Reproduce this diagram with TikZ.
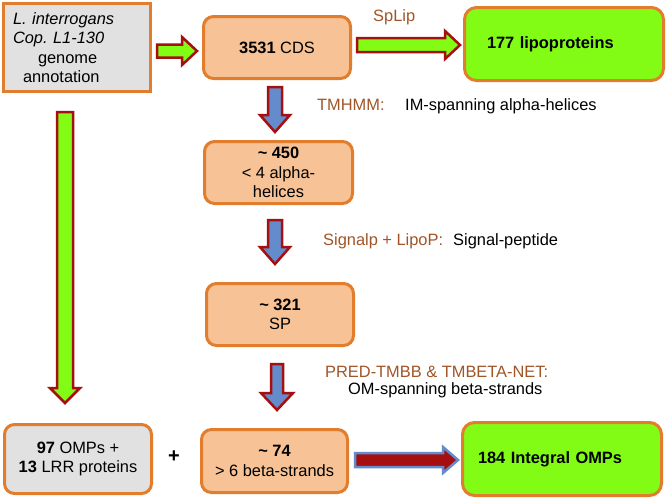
\documentclass[tikz,border=0pt]{standalone}
\usepackage{fontspec}
\setmainfont{Liberation Sans}
\usetikzlibrary{calc}
\frenchspacing
\definecolor{boxorange}{RGB}{226,125,45}
\definecolor{peach}{RGB}{246,194,150}
\definecolor{boxgray}{RGB}{225,225,225}
\definecolor{limefill}{RGB}{130,252,20}
\definecolor{arrowred}{RGB}{165,15,15}
\definecolor{arrowblue}{RGB}{100,140,205}
\definecolor{brownlbl}{RGB}{160,85,40}
\newcommand\myharrow[6]{%
  \draw[#1] let \p1=(#2), \p2=(#3) in
    (\x1,\y1+#4) -- (\x2-#6,\y1+#4) -- (\x2-#6,\y1+#5) -- (\x2,\y1)
    -- (\x2-#6,\y1-#5) -- (\x2-#6,\y1-#4) -- (\x1,\y1-#4) -- cycle;}
\newcommand\myvarrow[6]{%
  \draw[#1] let \p1=(#2), \p2=(#3) in
    (\x1+#4,\y1) -- (\x1+#4,\y2+#6) -- (\x1+#5,\y2+#6) -- (\x1,\y2)
    -- (\x1-#5,\y2+#6) -- (\x1-#4,\y2+#6) -- (\x1-#4,\y1) -- cycle;}
\begin{document}
\begin{tikzpicture}[x=1pt,y=-1pt,
  txt/.style={font=\fontsize{16.4}{19.5}\selectfont},
  flowbox/.style={txt, draw=boxorange, line width=3pt, align=center, inner sep=0pt},
  graybox/.style={flowbox, fill=boxgray},
  peachbox/.style={flowbox, fill=peach, rounded corners=10pt},
  limebox/.style={flowbox, fill=limefill, rounded corners=12pt},
  garrow/.style={fill=limefill, draw=arrowred, line width=2.5pt, line join=miter},
  barrow/.style={fill=arrowblue, draw=arrowred, line width=2.5pt, line join=miter},
  rarrow/.style={fill=arrowred, draw=arrowblue, line width=2.5pt, line join=miter},
  tool/.style={txt, text=brownlbl, inner sep=0pt, anchor=base west},
  desc/.style={txt, text=black, inner sep=0pt, anchor=base west}]
\fill[white] (0,0) rectangle (666,498);
\path[use as bounding box] (0,0) rectangle (666,498);

% boxes
\node[graybox, minimum width=147pt, minimum height=88pt, text width=128pt,
      inner xsep=9.5pt, align=left] (genome) at (77,47.5)
  {\textit{L. interrogans}\\\textit{Cop.\ L1-130}\\\hspace*{25pt}genome\\\hspace*{10pt}annotation};
\node[peachbox, minimum width=147pt, minimum height=62pt] (cds) at (277,47.5) {\textbf{3531} CDS};
\node[limebox, minimum width=199pt, minimum height=73pt, text width=154pt,
      inner xsep=22.5pt, align=left] (lipo) at (564,44) {\textbf{177 lipoproteins}};
\node[peachbox, minimum width=148pt, minimum height=62pt] (alpha) at (278.5,172.5)
  {\textbf{\textasciitilde\ 450}\\\textless\ 4 alpha-\\helices};
\node[peachbox, minimum width=147pt, minimum height=62pt] (sp) at (280,314.5)
  {\textbf{\textasciitilde\ 321}\\SP};
\node[graybox, rounded corners=10pt, minimum width=147pt, minimum height=69pt] (omps) at (78,459)
  {\textbf{97} OMPs +\\\textbf{13} LRR proteins};
\node[peachbox, minimum width=146pt, minimum height=63pt] (beta) at (274.5,461)
  {\textbf{\textasciitilde\ 74}\\\textgreater\ 6 beta-strands};
\node[limebox, minimum width=199pt, minimum height=73pt, text width=168pt,
      inner xsep=15.5pt, align=left] (integral) at (562,459) {\textbf{184 Integral OMPs}};
\node[inner sep=0pt, font=\fontsize{20}{24}\selectfont\bfseries] (plus) at (174,457) {+};

% labels
\node[tool] (splip) at (373,21) {SpLip};
\node[tool] (tmhmm) at (317,110) {TMHMM:};
\node[desc] (imspan) at (405,110) {IM-spanning alpha-helices};
\node[tool] (signalp) at (323,245) {Signalp + LipoP:};
\node[desc] (sigpep) at (453,245) {Signal-peptide};
\node[tool] (pred) at (325,377) {PRED-TMBB \& TMBETA-NET:};
\node[desc] (omspan) at (348,394) {OM-spanning beta-strands};

% arrow end points
\coordinate (a1s) at (157,51);  \coordinate (a1e) at (197,51);
\coordinate (a2s) at (357,45);  \coordinate (a2e) at (460,45);
\coordinate (d1s) at (275,87);  \coordinate (d1e) at (275,132);
\coordinate (d2s) at (275,220); \coordinate (d2e) at (275,264);
\coordinate (d3s) at (277,364); \coordinate (d3e) at (277,410);
\coordinate (lfs) at (65,112);  \coordinate (lfe) at (65,403);
\coordinate (bts) at (355,460); \coordinate (bte) at (458,460);

\myharrow{garrow}{a1s}{a1e}{6.5pt}{14pt}{15pt}
\myharrow{garrow}{a2s}{a2e}{7pt}{14pt}{15pt}
\myvarrow{barrow}{d1s}{d1e}{7pt}{15pt}{17pt}
\myvarrow{barrow}{d2s}{d2e}{7pt}{15pt}{17pt}
\myvarrow{barrow}{d3s}{d3e}{6pt}{16pt}{17pt}
\myvarrow{garrow}{lfs}{lfe}{8pt}{15pt}{15pt}
\myharrow{rarrow}{bts}{bte}{7pt}{13pt}{15pt}
\end{tikzpicture}
\end{document}
